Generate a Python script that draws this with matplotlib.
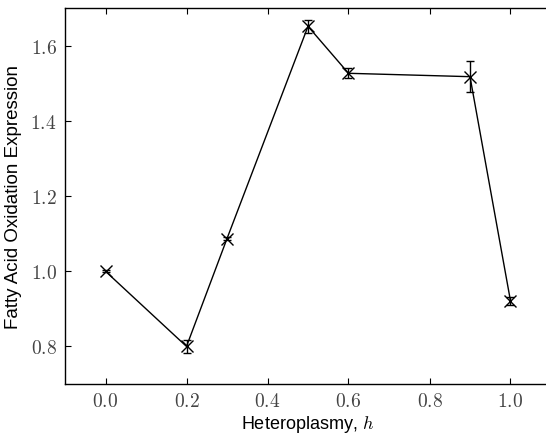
import matplotlib
matplotlib.use("Agg")
import matplotlib.pyplot as plt
from matplotlib.ticker import FuncFormatter

h = [0.0, 0.2, 0.3, 0.5, 0.6, 0.9, 1.0]
expr = [1.000, 0.800, 1.087, 1.652, 1.527, 1.518, 0.921]
err = [0.003, 0.018, 0.005, 0.018, 0.013, 0.042, 0.010]
xticks = [0.0, 0.2, 0.4, 0.6, 0.8, 1.0]
yticks = [0.8, 1.0, 1.2, 1.4, 1.6]

plt.rcParams['mathtext.fontset'] = 'cm'
plt.rcParams['font.family'] = ['Liberation Sans', 'DejaVu Sans']

fig = plt.figure(figsize=(5.46, 4.35), dpi=100)
ax = fig.add_axes([65/546, 50/435, 486/546, 375.7/435])

ax.errorbar(h, expr, yerr=err, color='black', marker='x', markersize=8,
            markeredgewidth=1.0, linewidth=1.0, capsize=3, elinewidth=1.0,
            capthick=1.0)

ax.set_xlim(-0.1, 1.1)
ax.set_ylim(0.7, 1.7)
ax.set_xticks(xticks)
ax.set_yticks(yticks)
fmt = FuncFormatter(lambda v, p: r'$%.1f$' % v)
ax.xaxis.set_major_formatter(fmt)
ax.yaxis.set_major_formatter(fmt)
ax.tick_params(direction='in', top=True, right=False, length=4, width=0.8,
               labelsize=14, colors='black', labelcolor='#444444', pad=6)
for s in ax.spines.values():
    s.set_linewidth(1.0)

ax.set_xlabel(r'Heteroplasmy, $h$', fontsize=13, labelpad=2)
ax.set_ylabel('Fatty Acid Oxidation Expression', fontsize=13.5, labelpad=6)

fig.savefig('out.png', dpi=100)
